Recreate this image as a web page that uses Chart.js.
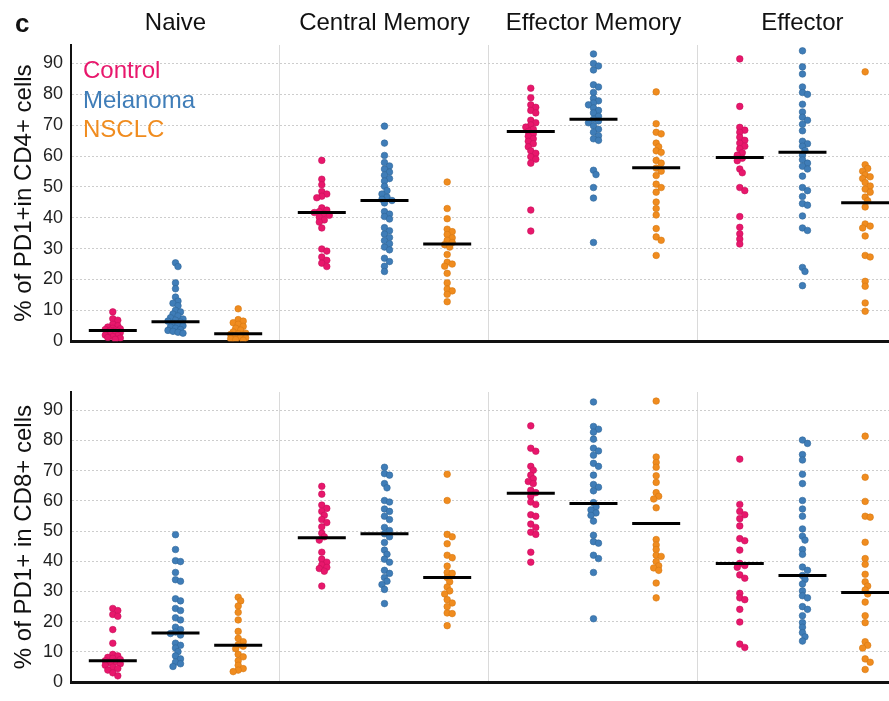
<!DOCTYPE html>
<html>
<head>
<meta charset="utf-8">
<script src="https://cdn.jsdelivr.net/npm/chart.js@4.4.1/dist/chart.umd.min.js"></script>
<style>
  body { margin: 0; background: #fff; }
  #wrap { position: relative; width: 889px; height: 701px; }
  #wrap canvas { position: absolute; left: 0; }
  #cd4 { top: 0; }
  #cd8 { top: 360px; }
</style>
</head>
<body>
<div id="wrap">
  <canvas id="cd4" width="889" height="360"></canvas>
  <canvas id="cd8" width="889" height="341"></canvas>
</div>
<script>
const groups = ['Naive', 'Central Memory', 'Effector Memory', 'Effector'];
const seriesNames = ['Control', 'Melanoma', 'NSCLC'];
const yTicks = [0, 10, 20, 30, 40, 50, 60, 70, 80, 90];

// CD4+ panel, one inner list per group
const cd4Control = [
  [9.5, 7.3, 6.8, 5.5, 5.0, 4.6, 4.2, 4.0, 3.8, 3.6, 3.5, 3.3, 3.1, 3.0, 2.8, 2.5, 2.2, 2.0, 1.8, 1.5, 1.2, 1.0, 0.6],
  [58.6, 52.5, 50.7, 48.5, 47.7, 47.0, 46.5, 43.2, 42.5, 42.0, 41.7, 41.3, 40.8, 40.2, 39.3, 38.6, 36.7, 29.9, 29.2, 27.3, 26.2, 25.3, 24.2],
  [82.0, 78.9, 76.6, 75.8, 74.8, 74.0, 71.6, 70.8, 70.1, 69.4, 68.7, 68.0, 67.2, 66.4, 65.6, 64.8, 64.0, 63.0, 61.7, 60.9, 59.8, 59.0, 57.7, 42.5, 35.7],
  [91.5, 76.1, 69.3, 68.4, 67.7, 66.1, 65.1, 64.2, 63.2, 62.4, 61.1, 60.3, 59.3, 58.5, 55.8, 54.6, 49.8, 48.8, 40.4, 36.9, 34.8, 33.1, 31.5]
];
const cd4Melanoma = [
  [25.4, 24.2, 18.9, 17.0, 14.3, 13.0, 12.3, 11.5, 10.0, 9.5, 8.8, 8.2, 7.6, 7.2, 6.8, 6.5, 6.2, 5.8, 5.5, 5.0, 4.6, 4.2, 3.8, 3.5, 3.2, 2.9, 2.6],
  [69.7, 64.2, 60.2, 57.9, 56.8, 55.8, 54.8, 53.8, 52.7, 51.9, 50.2, 48.8, 47.7, 46.7, 46.0, 45.6, 44.8, 42.0, 41.2, 40.4, 39.6, 36.8, 35.8, 34.7, 33.6, 32.6, 31.6, 30.5, 29.6, 26.9, 25.8, 24.3, 22.6],
  [93.1, 90.0, 89.2, 87.9, 83.1, 82.4, 80.6, 78.7, 77.9, 77.2, 76.6, 75.6, 74.8, 74.0, 72.9, 71.9, 71.4, 70.8, 69.8, 68.7, 67.7, 66.6, 65.6, 65.1, 55.4, 54.0, 49.8, 46.4, 32.0],
  [94.1, 88.9, 86.6, 82.4, 80.6, 80.0, 76.8, 74.3, 72.6, 71.6, 70.3, 68.2, 64.8, 64.0, 63.2, 61.8, 60.3, 58.8, 57.7, 56.7, 55.8, 53.5, 49.8, 48.8, 46.9, 44.6, 44.1, 40.6, 36.7, 35.9, 23.9, 22.6, 18.0]
];
const cd4Nsclc = [
  [10.5, 7.0, 6.5, 6.0, 5.5, 4.8, 4.2, 3.6, 3.0, 2.6, 2.4, 2.2, 2.0, 1.7, 1.4, 1.1, 0.8, 0.5, 0.3],
  [51.6, 43.0, 39.7, 36.3, 35.5, 34.6, 33.5, 32.7, 32.0, 31.3, 30.5, 28.1, 25.6, 25.0, 24.3, 22.0, 18.9, 16.9, 16.3, 15.2, 12.8],
  [80.8, 70.5, 67.7, 67.2, 64.2, 63.0, 61.7, 61.2, 58.6, 57.7, 56.1, 55.1, 53.7, 50.9, 49.8, 48.3, 45.1, 43.0, 40.9, 36.5, 33.8, 32.7, 27.8],
  [87.3, 57.2, 56.0, 55.1, 53.9, 53.3, 52.7, 51.4, 50.3, 49.3, 48.3, 46.7, 45.5, 43.5, 38.0, 37.3, 36.7, 34.1, 27.8, 27.3, 19.4, 17.8, 12.4, 9.7]
];
const cd4ControlMedian = [3.5, 41.7, 68.0, 59.5];
const cd4MelanomaMedian = [6.3, 45.6, 71.9, 61.2];
const cd4NsclcMedian = [2.4, 31.5, 56.2, 44.9];

// CD8+ panel
const cd8Control = [
  [24.4, 23.7, 22.4, 21.8, 17.4, 12.9, 9.2, 8.7, 8.2, 7.9, 7.5, 7.1, 6.8, 6.5, 6.1, 5.6, 5.0, 4.5, 4.0, 3.1, 2.1],
  [64.8, 62.2, 58.6, 57.5, 56.5, 55.2, 53.8, 52.8, 51.4, 49.3, 48.1, 47.0, 43.0, 40.7, 39.7, 38.8, 38.0, 37.6, 36.7, 31.8],
  [84.8, 77.4, 76.4, 71.4, 70.1, 68.5, 67.3, 66.4, 65.7, 63.5, 62.7, 61.5, 59.6, 58.8, 55.4, 54.9, 52.3, 51.2, 49.6, 48.9, 43.0, 39.7],
  [73.8, 58.8, 56.5, 55.4, 54.1, 51.7, 47.5, 46.8, 43.7, 39.3, 38.6, 38.0, 35.5, 34.4, 29.4, 27.9, 27.3, 24.1, 19.9, 12.6, 11.5]
];
const cd8Melanoma = [
  [48.8, 43.9, 40.2, 39.9, 36.3, 33.9, 33.4, 27.6, 26.9, 24.4, 23.7, 21.3, 20.6, 18.2, 17.4, 16.6, 16.1, 15.6, 12.9, 12.2, 11.3, 10.1, 8.7, 7.7, 6.6, 6.1, 5.2],
  [71.1, 69.0, 68.5, 65.7, 64.3, 60.1, 59.6, 57.3, 56.5, 54.9, 53.8, 51.2, 50.2, 49.1, 48.1, 46.2, 43.7, 42.3, 40.7, 39.7, 37.0, 36.0, 34.6, 33.4, 32.3, 30.7, 26.0],
  [92.7, 84.6, 83.7, 82.7, 80.4, 77.4, 76.5, 75.1, 72.4, 71.4, 68.5, 65.4, 64.5, 63.3, 59.4, 58.0, 57.0, 56.0, 55.2, 53.3, 48.6, 46.5, 46.0, 42.0, 40.9, 36.3, 21.0],
  [80.1, 79.0, 75.3, 73.5, 68.8, 65.7, 60.1, 57.3, 54.9, 50.7, 48.3, 47.0, 43.9, 42.3, 38.1, 37.0, 35.3, 34.0, 32.5, 30.2, 28.6, 27.9, 25.0, 24.1, 22.0, 19.7, 18.2, 16.4, 15.0, 13.6]
];
const cd8Nsclc = [
  [28.1, 26.9, 25.2, 23.1, 20.6, 16.8, 14.5, 13.4, 12.4, 11.9, 11.1, 9.2, 8.4, 7.1, 5.6, 4.5, 4.0, 3.5],
  [68.8, 60.1, 48.9, 48.1, 45.8, 42.0, 41.2, 38.4, 36.3, 36.0, 34.6, 33.2, 31.5, 30.2, 29.2, 27.3, 26.2, 25.0, 22.9, 22.7, 18.7],
  [93.0, 74.5, 72.7, 71.1, 68.3, 66.1, 62.7, 61.5, 60.6, 57.7, 47.2, 45.4, 43.9, 42.0, 41.6, 39.9, 38.5, 37.8, 37.0, 32.8, 27.9],
  [81.4, 67.8, 59.8, 54.9, 54.6, 46.3, 40.9, 39.0, 35.7, 33.2, 31.8, 30.5, 29.2, 26.5, 22.0, 19.7, 13.4, 12.2, 11.3, 7.7, 6.6, 4.2]
];
const cd8ControlMedian = [7.1, 47.8, 62.5, 39.3];
const cd8MelanomaMedian = [16.3, 49.1, 59.1, 35.3];
const cd8NsclcMedian = [12.2, 34.6, 52.5, 29.7];

const FONT = '"Liberation Sans", Arial, sans-serif';
const seriesColors = ['#e8176c', '#3f7db8', '#f08c1f'];
const seriesEdges = ['#c8105a', '#2f6699', '#d67812'];
const seriesOffset = [-0.3, 0, 0.3];
const X_MAX = 3.914;     // last group is cut at the right edge
const PX_X = 209, PX_Y = 3.18;

// simple beeswarm: push a dot sideways when it would sit on one already placed
function swarm(values, center) {
  const placed = [];
  return values.map(v => {
    const py = v * PX_Y;
    let best = 0, bestGap = -1;
    for (let k = 0; k < 7; k++) {
      const dx = (k % 2 ? 1 : -1) * Math.ceil(k / 2) * 2.5;
      const gap = Math.min(Infinity, ...placed.map(p => Math.hypot(p.x - dx, p.y - py)));
      if (gap >= 4.5) { best = dx; break; }
      if (gap > bestGap) { best = dx; bestGap = gap; }
    }
    placed.push({ x: best, y: py });
    return { x: center + best / PX_X, y: v };
  });
}

function buildDatasets(values, medians) {
  const sets = [{
    label: 'median',
    data: medians.flatMap((m, s) => m.map((v, g) => ({ x: g + 0.5 + seriesOffset[s], y: v }))),
    pointStyle: 'line',
    pointRadius: 24,
    pointHoverRadius: 24,
    pointBorderWidth: 3,
    pointBorderColor: '#000',
    order: -1
  }];
  values.forEach((bySeries, s) => {
    sets.push({
      label: seriesNames[s],
      data: bySeries.flatMap((vals, g) => swarm(vals, g + 0.5 + seriesOffset[s])),
      pointRadius: 3.3,
      pointHoverRadius: 3.3,
      pointBackgroundColor: seriesColors[s],
      pointBorderColor: seriesEdges[s],
      pointBorderWidth: 0.6
    });
  });
  return sets;
}

const panelLabels = {
  id: 'panelLabels',
  afterDraw(chart) {
    const ctx = chart.ctx;
    ctx.save();
    ctx.textBaseline = 'alphabetic';
    ctx.font = 'bold 26px ' + FONT;
    ctx.fillStyle = '#111';
    ctx.fillText('c', 15, 32);
    ctx.font = '24px ' + FONT;
    seriesNames.forEach((name, i) => {
      ctx.fillStyle = seriesColors[i];
      ctx.fillText(name, 83, 78 + i * 29.5);
    });
    ctx.restore();
  }
};

function makeChart(id, yTitle, values, medians, isTop) {
  const scales = {
    x: {
      type: 'linear', position: 'bottom', min: 0, max: X_MAX,
      afterBuildTicks: a => { a.ticks = [1, 2, 3].map(v => ({ value: v })); },
      afterFit: a => { a.height = isTop ? 10 : 5; },
      ticks: { display: false },
      grid: { color: '#dadada', lineWidth: 1, drawTicks: false },
      border: { display: true, color: '#111', width: 3 }
    },
    y: {
      min: 0, max: 96,
      afterBuildTicks: a => { a.ticks = yTicks.map(v => ({ value: v })); },
      afterFit: a => { a.width = 71; },
      ticks: { color: '#222', font: { size: 18, family: FONT }, padding: 8 },
      grid: { color: '#cdcdcd', lineWidth: 1, drawTicks: false },
      border: { display: true, color: '#111', width: 2, dash: [2, 2] },
      title: { display: true, text: yTitle, color: '#111', font: { size: 24, family: FONT }, padding: { top: 10, bottom: 0 } }
    }
  };
  if (isTop) {
    scales.xTop = {
      type: 'linear', position: 'top', min: 0, max: X_MAX,
      afterBuildTicks: a => { a.ticks = groups.map((_, g) => ({ value: g + 0.5 })); },
      afterFit: a => { a.height = 45; },
      ticks: { color: '#111', font: { size: 24, family: FONT }, padding: -1, maxRotation: 0,
               callback: (v, i) => groups[i] },
      grid: { display: false },
      border: { display: false }
    };
  }
  return new Chart(document.getElementById(id), {
    type: 'scatter',
    data: { datasets: buildDatasets(values, medians) },
    options: {
      responsive: false,
      animation: false,
      events: [],
      layout: { autoPadding: false, padding: { top: isTop ? 0 : 32, right: 0, left: 0, bottom: 0 } },
      plugins: { legend: { display: false }, tooltip: { enabled: false } },
      scales: scales
    },
    plugins: isTop ? [panelLabels] : []
  });
}

makeChart('cd4', '% of PD1+in CD4+ cells',
  [cd4Control, cd4Melanoma, cd4Nsclc],
  [cd4ControlMedian, cd4MelanomaMedian, cd4NsclcMedian], true);
makeChart('cd8', '% of PD1+ in CD8+ cells',
  [cd8Control, cd8Melanoma, cd8Nsclc],
  [cd8ControlMedian, cd8MelanomaMedian, cd8NsclcMedian], false);
</script>
</body>
</html>
